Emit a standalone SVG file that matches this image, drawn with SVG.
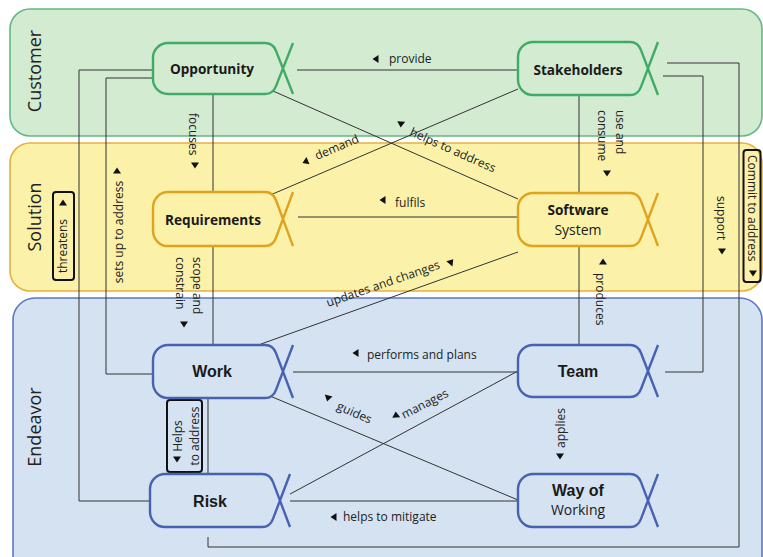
<svg xmlns="http://www.w3.org/2000/svg" width="763" height="557" viewBox="0 0 763 557">
  <style>
    .band-c { fill: #d3ebd1; stroke: #62b983; stroke-width: 1.6; }
    .band-s { fill: #fbf1a8; stroke: #e2b23c; stroke-width: 1.6; }
    .band-e { fill: #d4e2f2; stroke: #5a78c2; stroke-width: 1.6; }
    .band-label { font-family: "Open Sans", "Liberation Sans", sans-serif; font-size: 18px; fill: #222; text-anchor: middle; }
    .node-c { fill: #d3ebd1; stroke: #3fac66; stroke-width: 2.4; }
    .node-s { fill: #fbf1a8; stroke: #dfa31e; stroke-width: 2.4; }
    .node-e { fill: #d4e2f2; stroke: #4862b2; stroke-width: 2.4; }
    .nt { font-family: "Open Sans", "Liberation Sans", sans-serif; font-size: 13.6px; font-weight: bold; fill: #1a1a1a; text-anchor: middle; }
    .nt-e { font-family: "Liberation Sans", Arial, sans-serif; font-size: 16px; font-weight: bold; fill: #1a1a1a; text-anchor: middle; }
    .nt-r { font-family: "Open Sans", "Liberation Sans", sans-serif; font-size: 14px; fill: #1a1a1a; text-anchor: middle; }
    .conn { fill: none; stroke: #333; stroke-width: 1; }
    .lbl { font-family: "Open Sans", "Liberation Sans", sans-serif; font-size: 12px; fill: #222; }
    .mid { text-anchor: middle; }
    .box { fill: none; stroke: #111; stroke-width: 2; }
    .tri { fill: #111; }
  </style>
  <defs>
    <!-- rounded body whose right end crosses into an X-shaped tail -->
    <path id="alpha" d="M 140,52 L 123,8 Q 120,0 112,0 H 15 A 15 15 0 0 0 0,15 V 37 A 15 15 0 0 0 15,52 H 112 Q 120,52 123,44 L 140,0"/>
    <polygon id="tri" points="-2.5,-4 3.5,0 -2.5,4"/>
  </defs>

  <!-- areas of concern -->
  <g id="areas">
    <rect class="band-c" x="10" y="9" width="752" height="127" rx="20"/>
    <rect class="band-s" x="10" y="143" width="752" height="148" rx="20"/>
    <rect class="band-e" x="13" y="298" width="749" height="290" rx="22"/>
    <text class="band-label" transform="translate(41,71) rotate(-90)">Customer</text>
    <text class="band-label" transform="translate(41,217) rotate(-90)">Solution</text>
    <text class="band-label" transform="translate(41,427) rotate(-90)">Endeavor</text>
  </g>

  <!-- relationships -->
  <g id="connectors">
    <!-- orthogonal routes -->
    <polyline class="conn" points="153,70 79,70 79,501 150,501"/>
    <polyline class="conn" points="153,78 106,78 106,374 153,374"/>
    <line class="conn" x1="213" y1="94" x2="213" y2="345"/>
    <line class="conn" x1="297" y1="70" x2="518" y2="70"/>
    <line class="conn" x1="579" y1="95" x2="579" y2="345"/>
    <polyline class="conn" points="667,63 739,63 739,547 208,547 208,537"/>
    <polyline class="conn" points="663,76 703,76 703,372 665,372"/>
    <line class="conn" x1="298" y1="217" x2="518" y2="217"/>
    <line class="conn" x1="293" y1="372" x2="518" y2="372"/>
    <line class="conn" x1="279" y1="501" x2="518" y2="501"/>
    <line class="conn" x1="208" y1="398" x2="208" y2="474"/>
    <!-- diagonal routes -->
    <line class="conn" x1="273" y1="91" x2="518" y2="199"/>
    <line class="conn" x1="268" y1="196" x2="518" y2="89"/>
    <line class="conn" x1="261" y1="344" x2="518" y2="252"/>
    <line class="conn" x1="270" y1="396" x2="518" y2="500"/>
    <line class="conn" x1="279" y1="500" x2="518" y2="371"/>

    <!-- relationship labels -->
    <use href="#tri" class="tri" transform="translate(376,59) rotate(180)"/>
    <text class="lbl" x="389" y="63">provide</text>

    <use href="#tri" class="tri" transform="translate(383,200) rotate(180)"/>
    <text class="lbl" x="395" y="207">fulfils</text>

    <use href="#tri" class="tri" transform="translate(356,353) rotate(180)"/>
    <text class="lbl" x="367" y="359">performs and plans</text>

    <use href="#tri" class="tri" transform="translate(334,517) rotate(180)"/>
    <text class="lbl" x="343" y="521">helps to mitigate</text>

    <g transform="translate(317,160) rotate(-23)">
      <use href="#tri" class="tri" transform="translate(-11,-3) rotate(180)"/>
      <text class="lbl" x="0" y="0">demand</text>
    </g>

    <use href="#tri" class="tri" transform="translate(401,124) rotate(95)"/>
    <text class="lbl" transform="translate(409,135) rotate(24)">helps to address</text>

    <text class="lbl" transform="translate(328,307) rotate(-19)">updates and changes</text>
    <use href="#tri" class="tri" transform="translate(451,262) rotate(-50)"/>

    <use href="#tri" class="tri" transform="translate(328,398) rotate(105)"/>
    <text class="lbl" transform="translate(336,409) rotate(24)">guides</text>

    <use href="#tri" class="tri" transform="translate(396,415) rotate(-95)"/>
    <text class="lbl" transform="translate(404,419) rotate(-27)">manages</text>

    <text class="lbl" transform="translate(189,113) rotate(90)">focuses</text>
    <use href="#tri" class="tri" transform="translate(195,165) rotate(90)"/>

    <text class="lbl" transform="translate(193,257) rotate(90)">scope and</text>
    <text class="lbl" transform="translate(176,257) rotate(90)">constrain</text>
    <use href="#tri" class="tri" transform="translate(184,324) rotate(90)"/>

    <text class="lbl" transform="translate(616,110) rotate(90)">use and</text>
    <text class="lbl" transform="translate(598,110) rotate(90)">consume</text>
    <use href="#tri" class="tri" transform="translate(607,173) rotate(90)"/>

    <use href="#tri" class="tri" transform="translate(603,262) rotate(-90)"/>
    <text class="lbl" transform="translate(596,273) rotate(90)">produces</text>

    <text class="lbl" transform="translate(717,196) rotate(90)">support</text>
    <use href="#tri" class="tri" transform="translate(722,251) rotate(90)"/>

    <rect class="box" x="743.5" y="150" width="17" height="132" rx="3"/>
    <text class="lbl" transform="translate(748,155) rotate(90)">Commit to address</text>
    <use href="#tri" class="tri" transform="translate(753,273) rotate(90)"/>

    <rect class="box" x="53" y="192" width="21" height="88" rx="3"/>
    <use href="#tri" class="tri" transform="translate(63,203) rotate(-90)"/>
    <text class="lbl mid" transform="translate(67,246) rotate(-90)">threatens</text>

    <text class="lbl mid" transform="translate(123,232) rotate(-90)">sets up to address</text>
    <use href="#tri" class="tri" transform="translate(117,171) rotate(-90)"/>

    <rect class="box" x="167" y="400" width="35" height="72" rx="3"/>
    <use href="#tri" class="tri" transform="translate(177,459) rotate(90)"/>
    <text class="lbl mid" transform="translate(182,436) rotate(-90)">Helps</text>
    <text class="lbl mid" transform="translate(199,436) rotate(-90)">to address</text>

    <use href="#tri" class="tri" transform="translate(560,456) rotate(90)"/>
    <text class="lbl mid" transform="translate(565,428) rotate(-90)">applies</text>
  </g>

  <!-- alphas -->
  <g id="opportunity">
    <use href="#alpha" class="node-c" transform="translate(153,43) scale(1,0.98)"/>
    <text class="nt" x="212" y="74">Opportunity</text>
  </g>
  <g id="stakeholders">
    <use href="#alpha" class="node-c" transform="translate(518,42) scale(1,1.02)"/>
    <text class="nt" x="578" y="75">Stakeholders</text>
  </g>
  <g id="requirements">
    <use href="#alpha" class="node-s" transform="translate(153,192) scale(1,1.04)"/>
    <text class="nt" x="213" y="225">Requirements</text>
  </g>
  <g id="software-system">
    <use href="#alpha" class="node-s" transform="translate(518,193) scale(1,1.02)"/>
    <text class="nt" x="578" y="215">Software</text>
    <text class="nt-r" x="578" y="235">System</text>
  </g>
  <g id="work">
    <use href="#alpha" class="node-e" transform="translate(153,345) scale(1,1.02)"/>
    <text class="nt-e" x="212" y="377">Work</text>
  </g>
  <g id="risk">
    <use href="#alpha" class="node-e" transform="translate(150,474) scale(1,1.02)"/>
    <text class="nt-e" x="210" y="507">Risk</text>
  </g>
  <g id="team">
    <use href="#alpha" class="node-e" transform="translate(518,345)"/>
    <text class="nt-e" x="578" y="377">Team</text>
  </g>
  <g id="way-of-working">
    <use href="#alpha" class="node-e" transform="translate(518,474) scale(1,1.02)"/>
    <text class="nt-e" x="578" y="496">Way of</text>
    <text class="nt-r" x="578" y="515">Working</text>
  </g>
</svg>
